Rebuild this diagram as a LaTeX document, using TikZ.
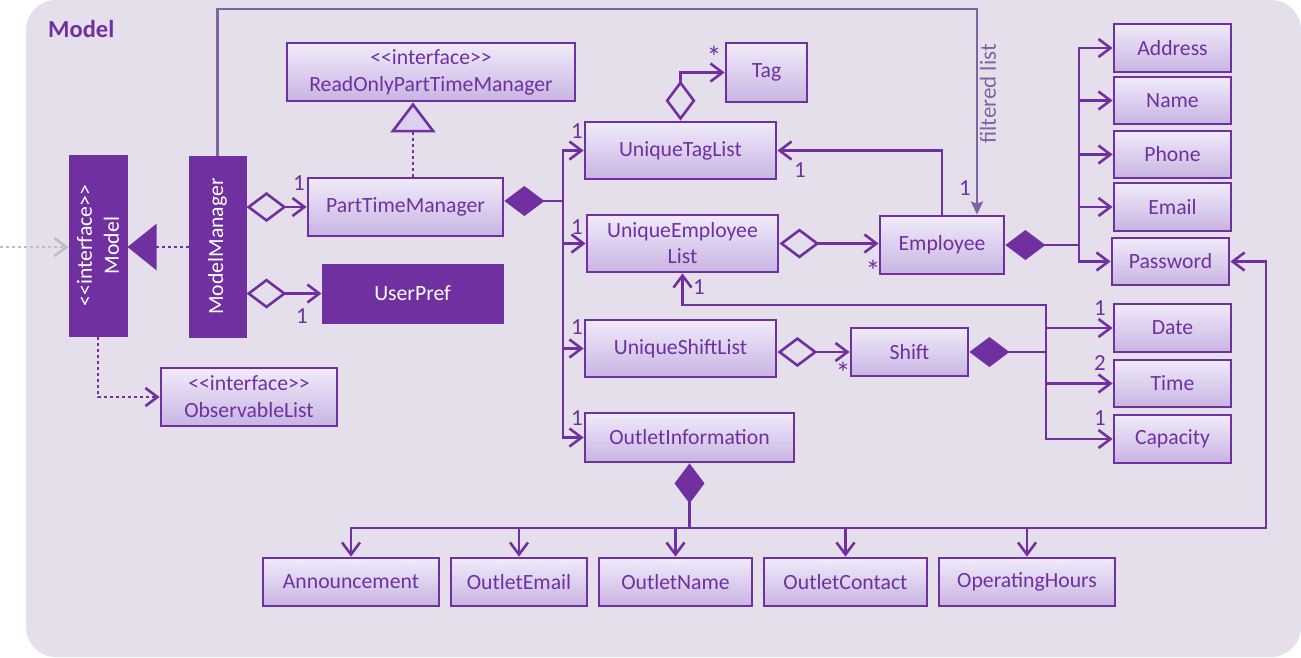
\documentclass[tikz,border=0pt]{standalone}
\usepackage{fontspec}
\setmainfont{Carlito}
\usetikzlibrary{arrows.meta}
\definecolor{pur}{HTML}{7030A0}
\definecolor{lpur}{HTML}{8064A2}
\definecolor{bgc}{HTML}{E5DFEC}
\definecolor{gtop}{HTML}{F0EBFA}
\definecolor{gbot}{HTML}{C8B4E3}
\definecolor{tri}{HTML}{DCD0EF}
\definecolor{gry}{HTML}{BFBFBF}
\newcommand\iface{<\kern0pt<interface>\kern0pt>}
\begin{document}
\begin{tikzpicture}[x=1pt,y=-1pt,
  fnt/.style={font=\fontsize{21.7}{27}\selectfont},
  cls/.style={fnt, draw=pur, line width=2.8pt, top color=gtop, bottom color=gbot, text=pur, inner sep=0pt, align=center},
  dk/.style={fnt, draw=pur, line width=1pt, fill=pur, text=white, inner sep=0pt, align=center},
  lbl/.style={font=\fontsize{23}{26}\selectfont, text=pur, inner sep=0pt},
  star/.style={font=\fontsize{30}{30}\selectfont, text=pur, inner sep=0pt},
  conn/.style={draw=pur, line width=2.6pt},
  dot/.style={conn, dash pattern=on 3pt off 3pt},
  oarr/.style={-{Straight Barb[length=12pt,width=18pt]}},
  aggr/.style={{Diamond[open,length=40pt,width=30pt]}-{Straight Barb[length=12pt,width=18pt]}},
  fdia/.style={{Diamond[length=40pt,width=30pt]}-},
]
% background
\fill[white] (0,0) rectangle (1301,657);
\fill[bgc, rounded corners=30pt] (26,0) rectangle (1301,657);
\useasboundingbox (0,0) rectangle (1301,657);
\node[font=\fontsize{24.5}{28}\selectfont\bfseries, text=pur, anchor=west, inner sep=0pt] (title) at (48,29) {Model};

% dark boxes
\node[dk, minimum width=58pt, minimum height=181pt] (model) at (98,245.5) {};
\node[fnt, text=white, rotate=90, align=center, inner sep=0pt] (modeltxt) at (model.center) {\iface\\Model};
\node[dk, minimum width=57pt, minimum height=181pt] (mm) at (217.5,246.5) {};
\node[fnt, text=white, rotate=90, inner sep=0pt] (mmtxt) at (mm.center) {ModelManager};
\node[dk, minimum width=181pt, minimum height=59pt] (up) at (412.5,293.5) {UserPref};

% classes
\node[cls, minimum width=288pt, minimum height=58pt] (ro) at (431,72) {\iface\\ReadOnlyPartTimeManager};
\node[cls, minimum width=195pt, minimum height=58pt] (ptm) at (405.5,207) {PartTimeManager};
\node[cls, minimum width=176pt, minimum height=58pt] (obs) at (249,397) {\iface\\ObservableList};
\node[cls, minimum width=81pt, minimum height=59pt] (tag) at (766.5,72.5) {Tag};
\node[cls, minimum width=191pt, minimum height=57pt] (utl) at (680.5,150.5) {UniqueTagList};
\node[cls, minimum width=191pt, minimum height=57pt, font=\fontsize{21.7}{26}\selectfont] (uel) at (682.5,243.5) {UniqueEmployee\\List};
\node[cls, minimum width=191pt, minimum height=57pt] (usl) at (680.5,348.5) {UniqueShiftList};
\node[cls, minimum width=209pt, minimum height=49pt] (oi) at (689.5,437.5) {OutletInformation};
\node[cls, minimum width=124pt, minimum height=58pt] (emp) at (942,245) {Employee};
\node[cls, minimum width=117pt, minimum height=48pt] (shift) at (909.5,352) {Shift};
\node[cls, minimum width=117pt, minimum height=48pt] (addr) at (1172.5,48) {Address};
\node[cls, minimum width=117pt, minimum height=47pt] (name) at (1172.5,100.5) {Name};
\node[cls, minimum width=117pt, minimum height=47pt] (phone) at (1172.5,154.5) {Phone};
\node[cls, minimum width=117pt, minimum height=48pt] (email) at (1172.5,207) {Email};
\node[cls, minimum width=117pt, minimum height=47pt] (pw) at (1170.5,261.5) {Password};
\node[cls, minimum width=117pt, minimum height=48pt] (date) at (1172.5,328) {Date};
\node[cls, minimum width=117pt, minimum height=47pt] (time) at (1172.5,383.5) {Time};
\node[cls, minimum width=117pt, minimum height=48pt] (cap) at (1172.5,439) {Capacity};
\node[cls, minimum width=176pt, minimum height=48pt] (ann) at (351,582) {Announcement};
\node[cls, minimum width=136pt, minimum height=48pt] (oem) at (519,582) {OutletEmail};
\node[cls, minimum width=153pt, minimum height=48pt] (onm) at (675.5,582) {OutletName};
\node[cls, minimum width=163pt, minimum height=48pt] (oct) at (845.5,582) {OutletContact};
\node[cls, minimum width=176pt, minimum height=48pt] (oph) at (1027,582) {OperatingHours};

% helper coordinates
\coordinate (lin) at (0,247);
\coordinate (flc) at (977,9);
\coordinate (rx) at (413,0);
\coordinate (b1) at (563,201);
\coordinate (b2) at (1079,245);
\coordinate (b3) at (1046,352);
\coordinate (b3t) at (1046,305);
\coordinate (b4) at (689.5,528);
\coordinate (b4r) at (1266,528);

% connectors
\draw[dot, draw=gry, oarr] (lin) -- (lin -| model.west);
\draw[dot, -{Triangle[length=29pt,width=46pt]}] (lin -| mm.west) -- (lin -| model.east);
\draw[dot, oarr] (model.south) |- (obs.west);
\draw[conn, aggr] (mm.east |- ptm.west) -- (ptm.west);
\draw[conn, aggr] (mm.east |- up.west) -- (up.west);
\draw[draw=lpur, line width=2.3pt, -{Stealth[length=13pt,width=12pt,inset=2pt]}] (mm.north) |- (flc) -- (flc |- emp.north);
\draw[dot, -{Triangle[length=30pt,width=45pt,fill=tri]}] (rx |- ptm.north) -- (rx |- ro.south);

\draw[conn, fdia] (b1 -| ptm.east) -- (b1);
\draw[conn, oarr] (b1) |- (utl.west);
\draw[conn, oarr] (b1) |- (uel.west);
\draw[conn, oarr] (b1) |- (usl.west);
\draw[conn, oarr] (b1) |- (oi.west);

\draw[conn, aggr] (utl.north) |- (tag.west);
\draw[conn, aggr] (uel.east) -- (uel.east -| emp.west);
\draw[conn, oarr] (emp.north) |- (utl.east);

\draw[conn, fdia] (emp.east) -- (b2);
\draw[conn, oarr] (b2) |- (addr.west);
\draw[conn, oarr] (b2) |- (name.west);
\draw[conn, oarr] (b2) |- (phone.west);
\draw[conn, oarr] (b2) |- (email.west);
\draw[conn, oarr] (b2) |- (pw.west);

\draw[conn, aggr] (shift.west -| usl.east) -- (shift.west);
\draw[conn, fdia] (shift.east) -- (b3);
\draw[conn, oarr] (b3) |- (date.west);
\draw[conn, oarr] (b3) |- (time.west);
\draw[conn, oarr] (b3) |- (cap.west);
\draw[conn, oarr] (b3) -- (b3t) -| (uel.south);

\draw[conn, fdia] (oi.south) -- (b4);
\draw[conn, oarr] (b4) -| (ann.north);
\draw[conn, oarr] (b4) -| (oem.north);
\draw[conn, oarr] (b4) -| (onm.north);
\draw[conn, oarr] (b4) -| (oct.north);
\draw[conn, oarr] (b4) -| (oph.north);
\draw[conn, oarr] (b4) -- (b4r) |- (pw.east);

% labels
\node[lbl] (m1) at (299,183) {1};
\node[lbl] (m2) at (302,316) {1};
\node[lbl] (m3) at (965,188) {1};
\node[lbl, text=lpur, rotate=90] (fl) at (988,94) {filtered list};
\node[lbl] (m4) at (577,131) {1};
\node[lbl] (m5) at (577,227) {1};
\node[lbl] (m6) at (577,327) {1};
\node[lbl] (m7) at (577,418) {1};
\node[star] (s1) at (714,57) {*};
\node[star] (s2) at (873,271) {*};
\node[star] (s3) at (843,373) {*};
\node[lbl] (m8) at (800,170) {1};
\node[lbl] (m9) at (699,287) {1};
\node[lbl] (m10) at (1100,308) {1};
\node[lbl] (m11) at (1100,363) {2};
\node[lbl] (m12) at (1100,418) {1};
\end{tikzpicture}
\end{document}
